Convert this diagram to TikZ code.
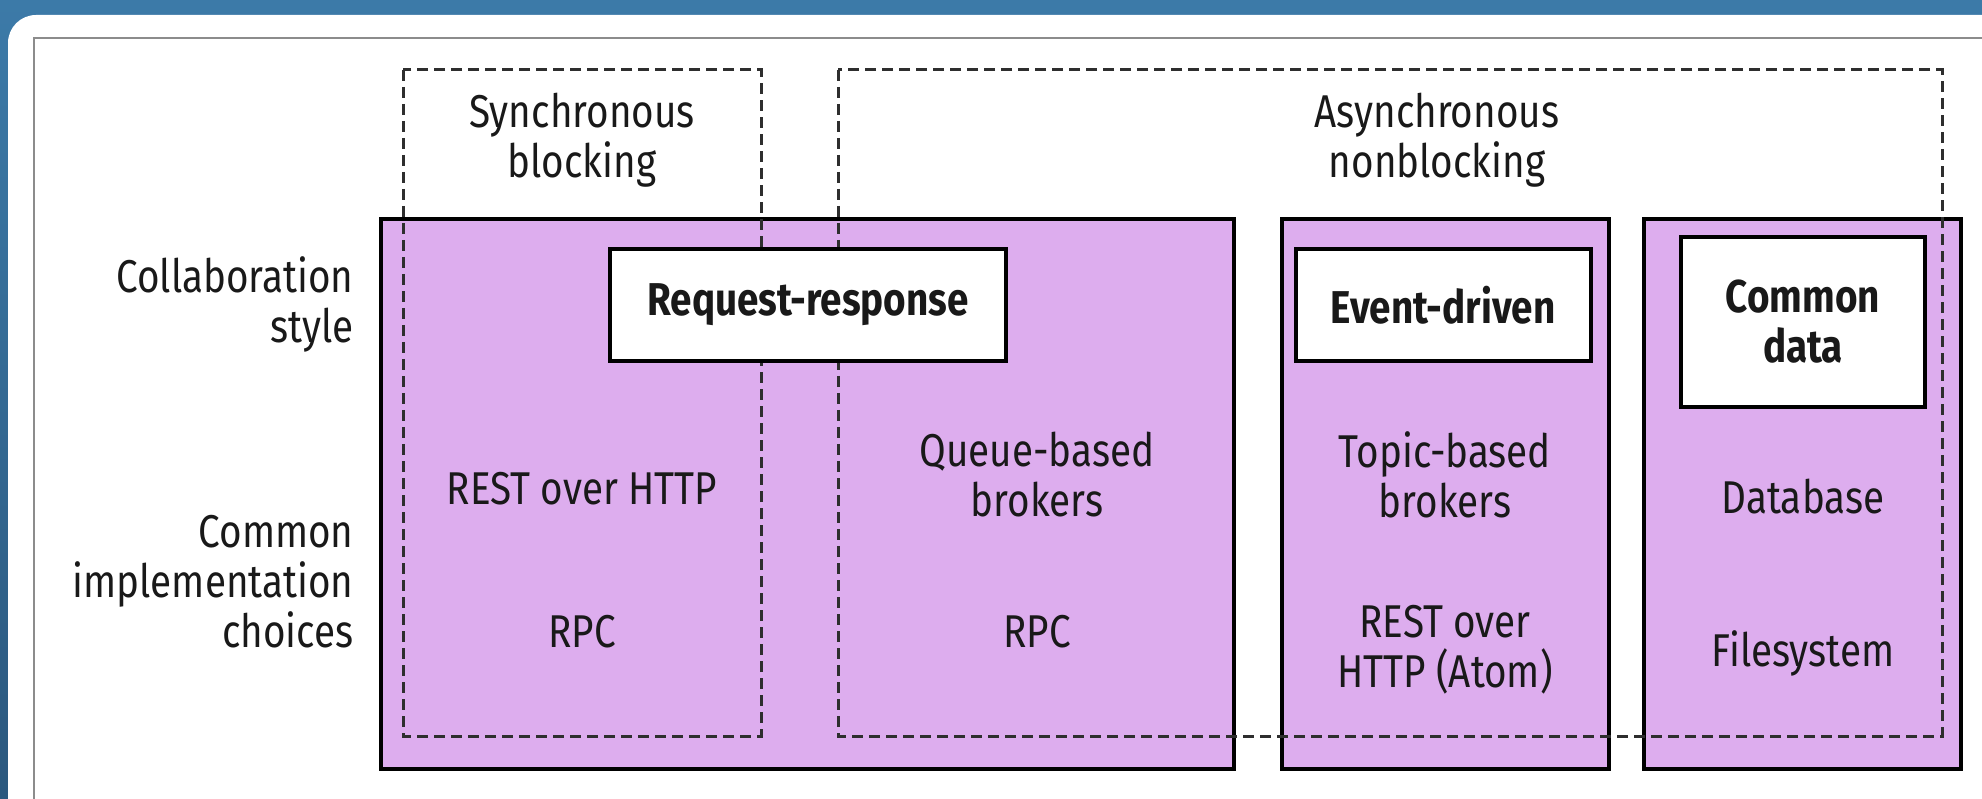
\documentclass[tikz,border=0pt]{standalone}
\usepackage{fontspec}
\setmainfont{Fira Sans}[FakeStretch=0.84]
\definecolor{panelblue}{HTML}{3C7AA8}
\definecolor{paneldark}{HTML}{2B587E}
\definecolor{lilac}{HTML}{DDADEE}
\definecolor{framegray}{HTML}{8C8C8C}
\definecolor{dashgray}{HTML}{2E2E2E}
\begin{document}
\begin{tikzpicture}[x=1pt,y=-1pt,
    every node/.style={font=\fontsize{46}{50}\selectfont,align=center,text=black!90},
    stylebox/.style={draw=black,line width=4pt,fill=lilac},
    modebox/.style={draw=dashgray,line width=3pt,dash pattern=on 11pt off 6pt},
    namebox/.style={draw=black,line width=4pt,fill=white,inner sep=0pt,font=\fontsize{46}{50}\selectfont\bfseries},
    rowlabel/.style={anchor=east,align=right}]
    \useasboundingbox (0,0) rectangle (1982,799);
    \clip (0,0) rectangle (1982,799);
    \shade[top color=panelblue,bottom color=paneldark] (0,0) rectangle (1982,799);
    \fill[white,rounded corners=28pt] (8,15) rectangle (2100,900);
    \draw[framegray,line width=2pt] (34,900) -- (34,38) -- (2100,38);

    \draw[stylebox] (381,219) rectangle (1234,769);
    \draw[stylebox] (1282,219) rectangle (1609,769);
    \draw[stylebox] (1644,219) rectangle (1961,769);

    \draw[modebox] (403,70) rectangle (761,736);
    \draw[modebox] (838,70) rectangle (1942,736);

    \node[namebox,minimum width=396pt,minimum height=112pt] (reqres) at (808,305) {Request-response};
    \node[namebox,minimum width=295pt,minimum height=112pt] (event) at (1443,305) {Event-driven};
    \node[namebox,minimum width=244pt,minimum height=170pt] (common) at (1803,322) {Common\\data};

    \node[rowlabel] (collab) at (357,304) {Collaboration\\style};
    \node[rowlabel] (impl) at (357,582) {Common\\implementation\\choices};

    \node (sync) at (582,140) {Synchronous\\blocking};
    \node (async) at (1437,140) {Asynchronous\\nonblocking};

    \node (rest) at (582,489) {REST over HTTP};
    \node (rpcsync) at (582,632) {RPC};
    \node (queue) at (1037,475) {Queue-based\\brokers};
    \node (rpcasync) at (1037,632) {RPC};
    \node (topic) at (1445,475) {Topic-based\\brokers};
    \node (atom) at (1445,650) {REST over\\HTTP (Atom)};
    \node (db) at (1803,497) {Database};
    \node (fs) at (1803,653) {Filesystem};
\end{tikzpicture}
\end{document}
